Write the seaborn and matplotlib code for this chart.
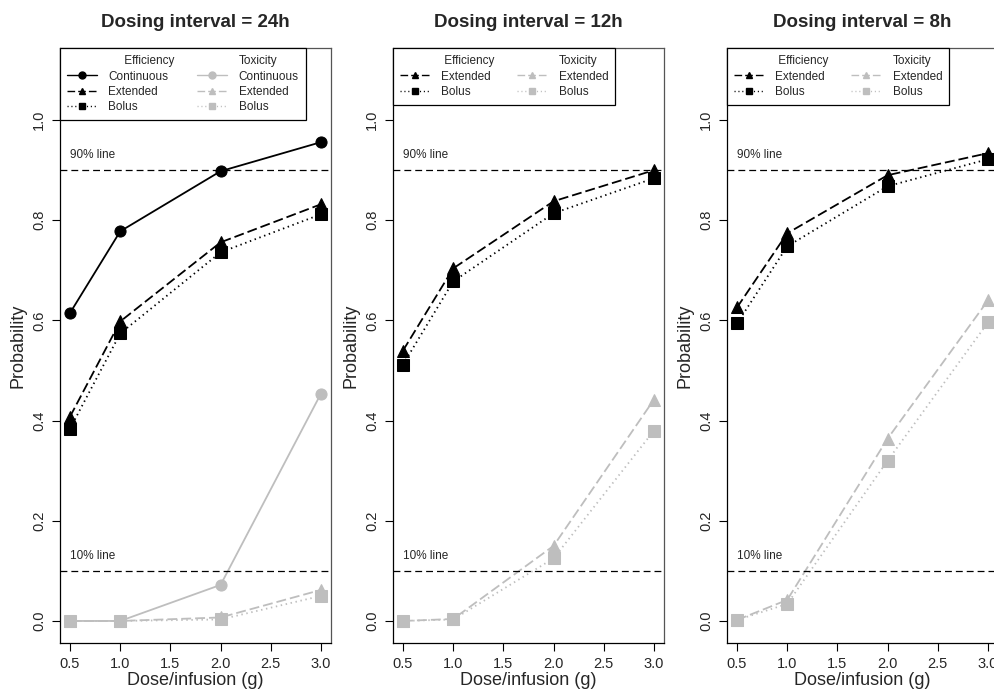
import numpy as np
import pandas as pd
import seaborn as sns
import matplotlib.pyplot as plt
from matplotlib.lines import Line2D

# dose levels (g) and dosing intervals
dose = [0.5, 1.0, 2.0, 3.0]
titles = ["Dosing interval = 24h", "Dosing interval = 12h", "Dosing interval = 8h"]

# probability of efficiency (target attainment)
eff_cont_24 = [0.615, 0.778, 0.898, 0.956]
eff_ext_24 = [0.408, 0.598, 0.756, 0.832]
eff_bol_24 = [0.384, 0.574, 0.736, 0.812]
eff_ext_12 = [0.540, 0.704, 0.838, 0.900]
eff_bol_12 = [0.512, 0.678, 0.814, 0.884]
eff_ext_8 = [0.626, 0.774, 0.890, 0.934]
eff_bol_8 = [0.594, 0.748, 0.868, 0.922]

# probability of toxicity
tox_cont_24 = [0.0, 0.0, 0.072, 0.454]
tox_ext_24 = [0.0, 0.0, 0.007, 0.062]
tox_bol_24 = [0.0, 0.0, 0.003, 0.050]
tox_ext_12 = [0.0, 0.004, 0.150, 0.442]
tox_bol_12 = [0.0, 0.003, 0.125, 0.380]
tox_ext_8 = [0.002, 0.042, 0.364, 0.640]
tox_bol_8 = [0.002, 0.034, 0.320, 0.596]

panels = [
    {"Continuous": (eff_cont_24, tox_cont_24), "Extended": (eff_ext_24, tox_ext_24), "Bolus": (eff_bol_24, tox_bol_24)},
    {"Extended": (eff_ext_12, tox_ext_12), "Bolus": (eff_bol_12, tox_bol_12)},
    {"Extended": (eff_ext_8, tox_ext_8), "Bolus": (eff_bol_8, tox_bol_8)},
]

styles = {
    "Continuous": dict(marker="o", linestyle="-"),
    "Extended": dict(marker="^", linestyle=(0, (5.5, 2.2))),
    "Bolus": dict(marker="s", linestyle=(0, (0.8, 2.0))),
}
gray = "#bebebe"

sns.set_style("ticks")
plt.rcParams["font.family"] = ["Liberation Sans", "DejaVu Sans"]

fig = plt.figure(figsize=(9.94, 6.89), dpi=100)
lefts = [60, 393, 727]
for i, left in enumerate(lefts):
    ax = fig.add_axes([left / 994, 46 / 689, 271 / 994, 595 / 689])
    series = panels[i]
    for name, (eff, tox) in series.items():
        st = styles[name]
        for vals, c in [(eff, "black"), (tox, gray)]:
            sns.lineplot(x=dose, y=vals, ax=ax, color=c, marker=st["marker"],
                         markersize=8, markeredgecolor=c, linestyle=st["linestyle"],
                         lw=1.3, legend=False)
    ax.axhline(0.9, color="black", lw=0.9, linestyle=(0, (5.5, 3.2)))
    ax.axhline(0.1, color="black", lw=0.9, linestyle=(0, (5.5, 3.2)))
    ax.text(0.5, 0.93, "90% line", fontsize=8.5, va="center", ha="left")
    ax.text(0.5, 0.13, "10% line", fontsize=8.5, va="center", ha="left")

    ax.set_xlim(0.4, 3.1)
    ax.set_ylim(-0.044, 1.144)
    ax.set_xticks([0.5, 1.0, 1.5, 2.0, 2.5, 3.0])
    ax.set_xticklabels(["0.5", "1.0", "1.5", "2.0", "2.5", "3.0"])
    ax.set_yticks([0.0, 0.2, 0.4, 0.6, 0.8, 1.0])
    ax.set_yticklabels(["0.0", "0.2", "0.4", "0.6", "0.8", "1.0"], rotation=90, va="center")
    ax.tick_params(labelsize=10.5, length=6, width=0.8, color="black", pad=4)
    ax.set_xlabel("Dose/infusion (g)", fontsize=13, labelpad=1)
    ax.set_ylabel("Probability", fontsize=13, labelpad=4)
    ax.set_title(titles[i], fontsize=13.5, fontweight="bold", pad=15)
    for sp in ax.spines.values():
        sp.set_visible(True)
        sp.set_linewidth(0.9)
        sp.set_color("black")
    ax.spines["top"].set_color("#555555")
    ax.spines["right"].set_color("#555555")

    # legend: efficiency column then toxicity column
    blank = Line2D([], [], color="none")
    pad = "     " if i == 0 else " "
    handles, labels = [blank], [pad + "Efficiency"]
    for name in series:
        handles.append(Line2D([], [], color="black", markeredgecolor="black", markersize=5, lw=1.0, **styles[name]))
        labels.append(name)
    handles.append(blank)
    labels.append("Toxicity")
    for name in series:
        handles.append(Line2D([], [], color=gray, markeredgecolor=gray, markersize=5, lw=1.0, **styles[name]))
        labels.append(name)
    leg = ax.legend(handles, labels, ncol=2, loc="upper left", borderaxespad=0,
                    fontsize=8.5, frameon=True, fancybox=False, framealpha=1,
                    edgecolor="black", handlelength=2.5, handletextpad=1.0,
                    columnspacing=1.9, labelspacing=0.29, borderpad=0.6)
    leg.get_frame().set_linewidth(0.9)

fig.savefig("out.png", dpi=100)
